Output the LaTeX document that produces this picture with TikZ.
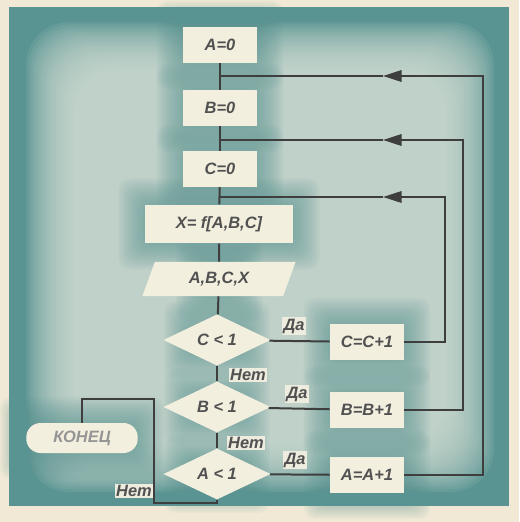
\documentclass[tikz,border=0pt]{standalone}
\usepackage{fontspec}
\setmainfont{Liberation Sans}
\usetikzlibrary{shapes.geometric, arrows.meta, backgrounds}
\definecolor{paper}{HTML}{F1E9D6}
\definecolor{sea}{HTML}{5A9492}
\definecolor{mist}{HTML}{D6E2D8}
\definecolor{card}{HTML}{F3EFDF}
\definecolor{ink}{HTML}{3E3E3E}
\tikzset{>={Triangle[length=13pt,width=8pt]}}
\tikzset{
  txt/.style={font=\bfseries\itshape\fontsize{11.5}{14}\selectfont, text=ink!90},
  blok/.style={txt, fill=card, minimum width=52pt, minimum height=25pt, inner sep=1pt},
  vvod/.style={blok, trapezium, trapezium left angle=70, trapezium right angle=110, minimum width=90pt, minimum height=24pt},
  usl/.style={blok, diamond, inner sep=0pt, minimum width=75pt, minimum height=35pt},
  finis/.style={blok, rounded corners=10pt, minimum width=78pt, minimum height=21pt, text=ink!55},
  otv/.style={txt, fill=card!80!mist, inner sep=1pt},
  line/.style={draw=ink, line width=1.4pt},
}

\begin{document}
\begin{tikzpicture}[x=0.7pt, y=-0.7pt]
    \useasboundingbox (0,0) rectangle (519,522);

    \node[blok] (a0) at (220,45) {A=0};
    \node[blok] (b0) at (220,108) {B=0};
    \node[blok] (c0) at (220,169) {C=0};
    \node[blok, minimum width=104pt, minimum height=27pt] (fx) at (219,224) {X= f[A,B,C]};
    \node[vvod] (out) at (219,279) {A,B,C,X};
    \node[usl] (dc) at (217,340) {C < 1};
    \node[usl] (db) at (217,407) {B < 1};
    \node[usl] (da) at (217,474) {A < 1};
    \node[blok] (ic) at (367,342) {C=C+1};
    \node[blok] (ib) at (367,410) {B=B+1};
    \node[blok] (ia) at (367,475) {A=A+1};
    \node[finis] (fin) at (82,438) {КОНЕЦ};

    \coordinate (jA) at (219,76);
    \coordinate (tA) at (383,76);
    \coordinate (rA) at (483,76);
    \coordinate (jB) at (219,140);
    \coordinate (tB) at (383,140);
    \coordinate (rB) at (463,140);
    \coordinate (jC) at (219,197);
    \coordinate (tC) at (383,197);
    \coordinate (rC) at (445,197);
    \coordinate (eA) at (217,503);
    \coordinate (eB) at (154,399);

    \draw[line] (a0) -- (b0);
    \draw[line] (b0) -- (c0);
    \draw[line] (c0) -- (fx);
    \draw[line] (fx) -- (out);
    \draw[line] (out) -- (dc);
    \draw[line] (dc) -- (db);
    \draw[line] (db) -- (da);
    \draw[line] (dc) -- (ic);
    \draw[line] (db) -- (ib);
    \draw[line] (da) -- (ia);
    \draw[line, ->] (ic.east) -| (rC) -- (tC);
    \draw[line] (tC) -- (jC);
    \draw[line, ->] (ib.east) -| (rB) -- (tB);
    \draw[line] (tB) -- (jB);
    \draw[line, ->] (ia.east) -| (rA) -- (tA);
    \draw[line] (tA) -- (jA);
    \draw[line] (da.south) -- (eA) -| (eB) -| (fin.north);

    \node[otv] (yC) at (294,326) {Да};
    \node[otv] (yB) at (297,394) {Да};
    \node[otv] (yA) at (295,460) {Да};
    \node[otv] (nC) at (248,375) {Нет};
    \node[otv] (nB) at (246,443) {Нет};
    \node[otv] (nA) at (134,491) {Нет};

    \begin{scope}[on background layer]
        \fill[paper] (0,0) rectangle (519,522);
        \fill[sea] (9,7) rectangle (509,506);
        \foreach \k in {0,...,19}
            \fill[mist, opacity=.09, rounded corners=30pt] (26+\k*2.5,22+\k*2.5) rectangle (494-\k*2.5,492-\k*2.5);
        \foreach \n in {a0,b0,c0,fx,out,dc,db,da,ic,ib,ia,fin}
            \foreach \k in {1,...,14}
                \fill[sea, opacity=.055, rounded corners=8pt] ([shift={(-\k*1.3pt,-\k*1.3pt)}]\n.south west) rectangle ([shift={(\k*1.3pt,\k*1.3pt)}]\n.north east);
    \end{scope}
\end{tikzpicture}
\end{document}
